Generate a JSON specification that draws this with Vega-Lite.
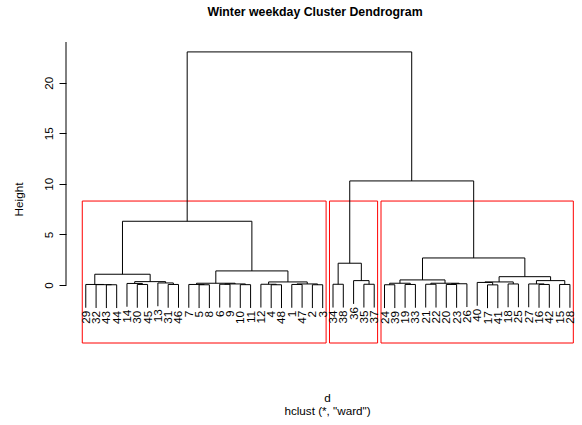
{
  "$schema": "https://vega.github.io/schema/vega-lite/v6.json",
  "width": 510,
  "height": 301,
  "autosize": {"type": "none"},
  "padding": {"left": 66, "top": 42, "right": 6, "bottom": 82},
  "background": "white",
  "config": {
    "view": {"stroke": null},
    "font": "Liberation Sans",
    "axisX": {"domain": false, "ticks": false, "labels": false, "grid": false,
      "titleFont": "Liberation Sans", "titleFontSize": 11.7, "titleFontWeight": "normal", "titleColor": "black",
      "titleX": 261, "titleY": 58, "titleAlign": "center", "titleBaseline": "alphabetic", "titleLineHeight": 13},
    "axisY": {"domain": false, "grid": false, "tickSize": 7, "tickColor": "black", "tickWidth": 1,
      "labelAngle": 270, "labelAlign": "center", "labelBaseline": "bottom", "labelPadding": 5,
      "labelFont": "Liberation Sans", "labelFontSize": 11.7, "labelColor": "black",
      "titleFont": "Liberation Sans", "titleFontSize": 11.7, "titleFontWeight": "normal", "titleColor": "black",
      "titleX": -53, "titleY": 157, "titleAlign": "center", "titleBaseline": "top", "titleAngle": 270}
  },
  "title": {"text": "Winter weekday Cluster Dendrogram", "font": "Liberation Sans", "fontSize": 12.3, "fontWeight": "bold", "color": "black", "anchor": "middle", "offset": 23, "dx": -6},
  "datasets": {
    "clusters": [
      {"x1": -0.34, "x2": 23.33, "ybot": -5.74, "ytop": 8.3},
      {"x1": 23.66, "x2": 28.33, "ybot": -5.74, "ytop": 8.3},
      {"x1": 28.66, "x2": 47.33, "ybot": -5.74, "ytop": 8.3}
    ],
    "axisline": [{"lo": 0, "hi": 24.03, "pos": -1.92}],
    "nodes": [
      {"xl": 2, "xr": 3, "h": 0.02, "hl": 0.02, "hr": 0.02},
      {"xl": 1, "xr": 2.5, "h": 0.03, "hl": 0.03, "hr": 0.02},
      {"xl": 0, "xr": 1.75, "h": 0.05, "hl": 0.05, "hr": 0.03},
      {"xl": 5, "xr": 6, "h": 0.05, "hl": 0.05, "hr": 0.05},
      {"xl": 4, "xr": 5.5, "h": 0.15, "hl": 0.15, "hr": 0.05},
      {"xl": 8, "xr": 9, "h": 0.05, "hl": 0.05, "hr": 0.05},
      {"xl": 7, "xr": 8.5, "h": 0.2, "hl": 0.2, "hr": 0.05},
      {"xl": 4.75, "xr": 7.75, "h": 0.33, "hl": 0.15, "hr": 0.2},
      {"xl": 0.875, "xr": 6.25, "h": 1.06, "hl": 0.05, "hr": 0.33},
      {"xl": 11, "xr": 12, "h": 0.02, "hl": 0.02, "hr": 0.02},
      {"xl": 10, "xr": 11.5, "h": 0.05, "hl": 0.05, "hr": 0.02},
      {"xl": 13, "xr": 14, "h": 0.07, "hl": 0.07, "hr": 0.07},
      {"xl": 15, "xr": 16, "h": 0.03, "hl": 0.03, "hr": 0.03},
      {"xl": 13.5, "xr": 15.5, "h": 0.1, "hl": 0.07, "hr": 0.03},
      {"xl": 10.75, "xr": 14.5, "h": 0.17, "hl": 0.05, "hr": 0.1},
      {"xl": 18, "xr": 19, "h": 0.02, "hl": 0.02, "hr": 0.02},
      {"xl": 17, "xr": 18.5, "h": 0.07, "hl": 0.07, "hr": 0.02},
      {"xl": 20, "xr": 21, "h": 0.05, "hl": 0.05, "hr": 0.05},
      {"xl": 22, "xr": 23, "h": 0.02, "hl": 0.02, "hr": 0.02},
      {"xl": 20.5, "xr": 22.5, "h": 0.1, "hl": 0.05, "hr": 0.02},
      {"xl": 17.75, "xr": 21.5, "h": 0.3, "hl": 0.07, "hr": 0.1},
      {"xl": 12.625, "xr": 19.625, "h": 1.39, "hl": 0.17, "hr": 0.3},
      {"xl": 3.5625, "xr": 16.125, "h": 6.3, "hl": 1.06, "hr": 1.39},
      {"xl": 24, "xr": 25, "h": 0.07, "hl": 0.07, "hr": 0.07},
      {"xl": 27, "xr": 28, "h": 0.07, "hl": 0.07, "hr": 0.07},
      {"xl": 26, "xr": 27.5, "h": 0.43, "hl": 0.43, "hr": 0.07},
      {"xl": 24.5, "xr": 26.75, "h": 2.15, "hl": 0.07, "hr": 0.43},
      {"xl": 29, "xr": 30, "h": 0.02, "hl": 0.02, "hr": 0.02},
      {"xl": 31, "xr": 32, "h": 0.05, "hl": 0.05, "hr": 0.05},
      {"xl": 29.5, "xr": 31.5, "h": 0.17, "hl": 0.02, "hr": 0.05},
      {"xl": 33, "xr": 34, "h": 0.07, "hl": 0.07, "hr": 0.07},
      {"xl": 35, "xr": 36, "h": 0.05, "hl": 0.05, "hr": 0.05},
      {"xl": 35.5, "xr": 37, "h": 0.12, "hl": 0.05, "hr": 0.12},
      {"xl": 33.5, "xr": 36.25, "h": 0.17, "hl": 0.07, "hr": 0.12},
      {"xl": 30.5, "xr": 34.875, "h": 0.5, "hl": 0.17, "hr": 0.17},
      {"xl": 39, "xr": 40, "h": 0.01, "hl": 0.01, "hr": 0.01},
      {"xl": 38, "xr": 39.5, "h": 0.25, "hl": 0.25, "hr": 0.01},
      {"xl": 41, "xr": 42, "h": 0.1, "hl": 0.1, "hr": 0.1},
      {"xl": 38.75, "xr": 41.5, "h": 0.3, "hl": 0.25, "hr": 0.1},
      {"xl": 44, "xr": 45, "h": 0.05, "hl": 0.05, "hr": 0.05},
      {"xl": 43, "xr": 44.5, "h": 0.1, "hl": 0.1, "hr": 0.05},
      {"xl": 46, "xr": 47, "h": 0.05, "hl": 0.05, "hr": 0.05},
      {"xl": 43.75, "xr": 46.5, "h": 0.43, "hl": 0.1, "hr": 0.05},
      {"xl": 40.125, "xr": 45.125, "h": 0.82, "hl": 0.3, "hr": 0.43},
      {"xl": 32.6875, "xr": 42.625, "h": 2.67, "hl": 0.5, "hr": 0.82},
      {"xl": 25.625, "xr": 37.65625, "h": 10.29, "hl": 2.15, "hr": 2.67},
      {"xl": 9.84375, "xr": 31.640625, "h": 23.05, "hl": 6.3, "hr": 10.29}
    ],
    "leaves": [
      {"idx": 0, "label": "29", "top": 0.05},
      {"idx": 1, "label": "32", "top": 0.03},
      {"idx": 2, "label": "43", "top": 0.02},
      {"idx": 3, "label": "44", "top": 0.02},
      {"idx": 4, "label": "14", "top": 0.15},
      {"idx": 5, "label": "30", "top": 0.05},
      {"idx": 6, "label": "45", "top": 0.05},
      {"idx": 7, "label": "13", "top": 0.2},
      {"idx": 8, "label": "31", "top": 0.05},
      {"idx": 9, "label": "46", "top": 0.05},
      {"idx": 10, "label": "7", "top": 0.05},
      {"idx": 11, "label": "5", "top": 0.02},
      {"idx": 12, "label": "8", "top": 0.02},
      {"idx": 13, "label": "6", "top": 0.07},
      {"idx": 14, "label": "9", "top": 0.07},
      {"idx": 15, "label": "10", "top": 0.03},
      {"idx": 16, "label": "11", "top": 0.03},
      {"idx": 17, "label": "12", "top": 0.07},
      {"idx": 18, "label": "4", "top": 0.02},
      {"idx": 19, "label": "48", "top": 0.02},
      {"idx": 20, "label": "1", "top": 0.05},
      {"idx": 21, "label": "47", "top": 0.05},
      {"idx": 22, "label": "2", "top": 0.02},
      {"idx": 23, "label": "3", "top": 0.02},
      {"idx": 24, "label": "34", "top": 0.07},
      {"idx": 25, "label": "38", "top": 0.07},
      {"idx": 26, "label": "36", "top": 0.43},
      {"idx": 27, "label": "35", "top": 0.07},
      {"idx": 28, "label": "37", "top": 0.07},
      {"idx": 29, "label": "24", "top": 0.02},
      {"idx": 30, "label": "39", "top": 0.02},
      {"idx": 31, "label": "19", "top": 0.05},
      {"idx": 32, "label": "33", "top": 0.05},
      {"idx": 33, "label": "21", "top": 0.07},
      {"idx": 34, "label": "22", "top": 0.07},
      {"idx": 35, "label": "20", "top": 0.05},
      {"idx": 36, "label": "23", "top": 0.05},
      {"idx": 37, "label": "26", "top": 0.12},
      {"idx": 38, "label": "40", "top": 0.25},
      {"idx": 39, "label": "17", "top": 0.01},
      {"idx": 40, "label": "41", "top": 0.01},
      {"idx": 41, "label": "18", "top": 0.1},
      {"idx": 42, "label": "25", "top": 0.1},
      {"idx": 43, "label": "27", "top": 0.1},
      {"idx": 44, "label": "16", "top": 0.05},
      {"idx": 45, "label": "42", "top": 0.05},
      {"idx": 46, "label": "15", "top": 0.05},
      {"idx": 47, "label": "28", "top": 0.05}
    ]
  },
  "layer": [
    {
      "data": {"name": "clusters"},
      "mark": {"type": "rect", "filled": false, "stroke": "#ff0000", "strokeWidth": 1},
      "encoding": {
        "x": {"field": "x1", "type": "quantitative", "scale": {"domain": [-1.92, 47.59], "nice": false, "zero": false},
          "title": ["d", "hclust (*, \"ward\")"]},
        "x2": {"field": "x2"},
        "y": {"field": "ybot", "type": "quantitative", "scale": {"domain": [-5.74, 24.03], "nice": false, "zero": false},
          "title": "Height", "axis": {"values": [0, 5, 10, 15, 20]}},
        "y2": {"field": "ytop"}
      }
    },
    {
      "data": {"name": "axisline"},
      "mark": {"type": "rule", "color": "black", "strokeWidth": 1},
      "encoding": {
        "x": {"field": "pos", "type": "quantitative", "title": ["d", "hclust (*, \"ward\")"]},
        "y": {"field": "lo", "type": "quantitative", "title": "Height", "axis": {"values": [0, 5, 10, 15, 20]}},
        "y2": {"field": "hi"}
      }
    },
    {
      "data": {"name": "nodes"},
      "mark": {"type": "rule", "color": "black", "strokeWidth": 1},
      "encoding": {
        "x": {"field": "xl", "type": "quantitative", "title": ["d", "hclust (*, \"ward\")"]},
        "x2": {"field": "xr"},
        "y": {"field": "h", "type": "quantitative", "title": "Height", "axis": {"values": [0, 5, 10, 15, 20]}}
      }
    },
    {
      "data": {"name": "nodes"},
      "mark": {"type": "rule", "color": "black", "strokeWidth": 1},
      "encoding": {
        "x": {"field": "xl", "type": "quantitative", "title": ["d", "hclust (*, \"ward\")"]},
        "y": {"field": "hl", "type": "quantitative", "title": "Height", "axis": {"values": [0, 5, 10, 15, 20]}},
        "y2": {"field": "h"}
      }
    },
    {
      "data": {"name": "nodes"},
      "mark": {"type": "rule", "color": "black", "strokeWidth": 1},
      "encoding": {
        "x": {"field": "xr", "type": "quantitative", "title": ["d", "hclust (*, \"ward\")"]},
        "y": {"field": "hr", "type": "quantitative", "title": "Height", "axis": {"values": [0, 5, 10, 15, 20]}},
        "y2": {"field": "h"}
      }
    },
    {
      "data": {"name": "leaves"},
      "mark": {"type": "rule", "color": "black", "strokeWidth": 1, "y2Offset": 23.3},
      "encoding": {
        "x": {"field": "idx", "type": "quantitative", "title": ["d", "hclust (*, \"ward\")"]},
        "y": {"field": "top", "type": "quantitative", "title": "Height", "axis": {"values": [0, 5, 10, 15, 20]}},
        "y2": {"field": "top"}
      }
    },
    {
      "data": {"name": "leaves"},
      "mark": {"type": "text", "angle": 270, "align": "right", "baseline": "middle", "yOffset": 26.3, "font": "Liberation Sans", "fontSize": 11.7, "color": "black"},
      "encoding": {
        "x": {"field": "idx", "type": "quantitative", "title": ["d", "hclust (*, \"ward\")"]},
        "y": {"field": "top", "type": "quantitative", "title": "Height", "axis": {"values": [0, 5, 10, 15, 20]}},
        "text": {"field": "label"}
      }
    }
  ]
}
